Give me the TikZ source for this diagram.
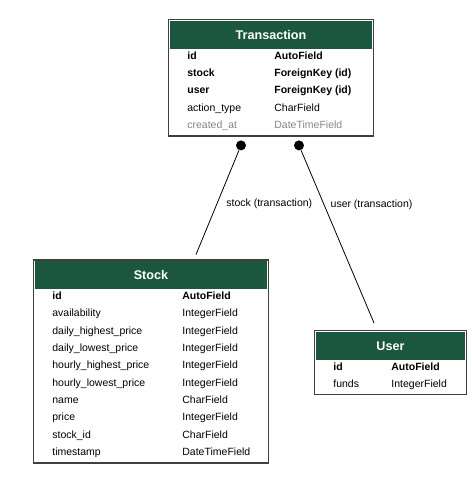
\documentclass[tikz,border=0pt]{standalone}
\usepackage{fontspec}
\setmainfont{Liberation Sans}
\usetikzlibrary{positioning}
\definecolor{header}{HTML}{1B563F}
\definecolor{inherited}{HTML}{858585}

\begin{document}
\begin{tikzpicture}[x=1pt,y=-1pt,thick,shorten >=6pt,node distance=17.35pt,
                    font=\fontsize{10.5}{12}\selectfont,
                    model/.style={rectangle,draw=black!75,line width=1.2pt,outer sep=0pt,inner sep=0pt},
                    model head/.style={fill=header,text=white,inner sep=0pt,minimum height=28pt,
                                       font=\fontsize{12.6}{14}\selectfont\bfseries},
                    field/.style={inner sep=0pt,anchor=base west},
                    key field/.style={field,font=\fontsize{10.5}{12}\selectfont\bfseries},
                    end dot/.style={circle,fill,inner sep=0pt,minimum size=10pt},
                    row under/.style={below=of #1.base west,anchor=base west}]
  \useasboundingbox (0,0) rectangle (472,483);

  % Transaction
  \node[model,minimum width=205pt,minimum height=116.5pt] (trans) at (271,77.75) {};
  \node[model head,minimum width=202.5pt,below=1pt of trans.north] (trans-head) {Transaction};
  \node[key field,below right=39.5pt and 18.5pt of trans.north west,anchor=base west] (trans-id) {id};
  \node[key field,row under=trans-id] (trans-stock) {stock};
  \node[key field,row under=trans-stock] (trans-user) {user};
  \node[field,row under=trans-user] (trans-action) {action\_type};
  \node[field,row under=trans-action,text=inherited] (trans-created) {created\_at};
  \node[key field,right=87pt of trans-id.base west,anchor=base west] (trans-id-type) {AutoField};
  \node[key field,row under=trans-id-type] (trans-stock-type) {ForeignKey (id)};
  \node[key field,row under=trans-stock-type] (trans-user-type) {ForeignKey (id)};
  \node[field,row under=trans-user-type] (trans-action-type) {CharField};
  \node[field,row under=trans-action-type,text=inherited] (trans-created-type) {DateTimeField};

  % Stock
  \node[model,minimum width=235pt,minimum height=203pt] (stock) at (151,361.5) {};
  \node[model head,minimum width=232.5pt,below=1pt of stock.north] (stock-head) {Stock};
  \node[key field,below right=39.5pt and 18.5pt of stock.north west,anchor=base west] (stock-id) {id};
  \node[field,row under=stock-id] (stock-avail) {availability};
  \node[field,row under=stock-avail] (stock-dhigh) {daily\_highest\_price};
  \node[field,row under=stock-dhigh] (stock-dlow) {daily\_lowest\_price};
  \node[field,row under=stock-dlow] (stock-hhigh) {hourly\_highest\_price};
  \node[field,row under=stock-hhigh] (stock-hlow) {hourly\_lowest\_price};
  \node[field,row under=stock-hlow] (stock-name) {name};
  \node[field,row under=stock-name] (stock-price) {price};
  \node[field,row under=stock-price] (stock-sid) {stock\_id};
  \node[field,row under=stock-sid] (stock-time) {timestamp};
  \node[key field,right=130pt of stock-id.base west,anchor=base west] (stock-id-type) {AutoField};
  \node[field,row under=stock-id-type] (stock-avail-type) {IntegerField};
  \node[field,row under=stock-avail-type] (stock-dhigh-type) {IntegerField};
  \node[field,row under=stock-dhigh-type] (stock-dlow-type) {IntegerField};
  \node[field,row under=stock-dlow-type] (stock-hhigh-type) {IntegerField};
  \node[field,row under=stock-hhigh-type] (stock-hlow-type) {IntegerField};
  \node[field,row under=stock-hlow-type] (stock-name-type) {CharField};
  \node[field,row under=stock-name-type] (stock-price-type) {IntegerField};
  \node[field,row under=stock-price-type] (stock-sid-type) {CharField};
  \node[field,row under=stock-sid-type] (stock-time-type) {DateTimeField};

  % User
  \node[model,minimum width=152pt,minimum height=64pt] (user) at (390.5,362.5) {};
  \node[model head,minimum width=149.5pt,below=1pt of user.north] (user-head) {User};
  \node[key field,below right=39.5pt and 18.5pt of user.north west,anchor=base west] (user-id) {id};
  \node[field,row under=user-id] (user-funds) {funds};
  \node[key field,right=58pt of user-id.base west,anchor=base west] (user-id-type) {AutoField};
  \node[field,row under=user-id-type] (user-funds-type) {IntegerField};

  % relations
  \node[end dot,below=4pt of trans.south,xshift=-30pt] (stock-dot) {};
  \node[end dot,below=4pt of trans.south,xshift=28pt] (user-dot) {};
  \coordinate (stock-in) at ([xshift=42.75pt]stock.north);
  \coordinate (user-in) at ([xshift=-13.3pt]user.north);

  \path
    (stock-dot) edge node[pos=.486,right=5.7pt] {stock (transaction)} (stock-in)
    (user-dot) edge[shorten >=8pt] node[pos=.3,right=3pt] {user (transaction)} (user-in)
;
\end{tikzpicture}
\end{document}
